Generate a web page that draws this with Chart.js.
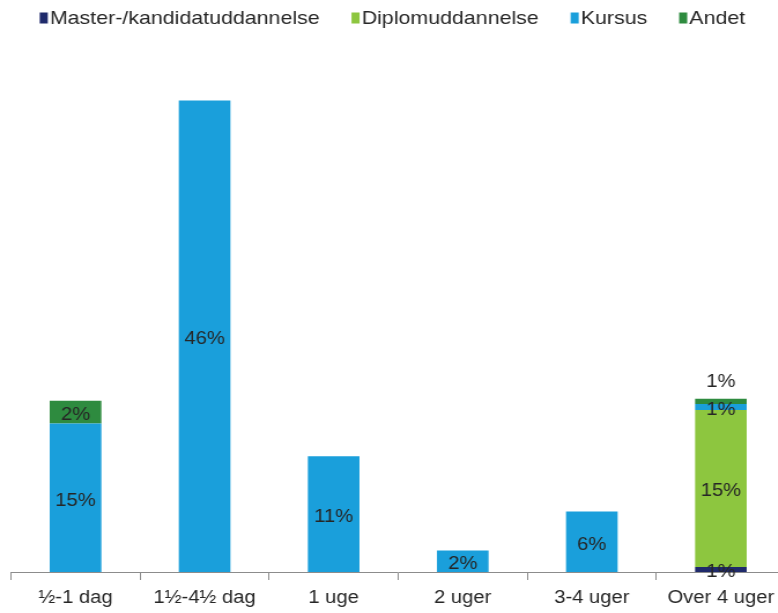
<!DOCTYPE html>
<html>
<head>
<meta charset="utf-8">
<script src="https://cdn.jsdelivr.net/npm/chart.js@4/dist/chart.umd.min.js"></script>
<style>
html,body{margin:0;padding:0;background:#fff;overflow:hidden;}
</style>
</head>
<body>
<canvas id="myChart" width="680" height="617" style="width:786px;height:617px;display:block;"></canvas>
<script>
var kategorier=['½-1 dag','1½-4½ dag','1 uge','2 uger','3-4 uger','Over 4 uger'];
var master=[0,0,0,0,0,0.5];
var diplom=[0,0,0,0,0,15.3];
var kursus=[14.5,46,11.3,2.1,5.9,0.6];
var andet=[2.2,0,0,0,0,0.5];

var skrift='"Liberation Sans", Arial, sans-serif';

// tekst i / over soejlerne
var etiketter={
	id:'etiketter',
	afterDatasetsDraw:function(chart){
		var ctx=chart.ctx;
		ctx.save();
		ctx.font='17.5px '+skrift;
		ctx.fillStyle='#262626';
		ctx.textAlign='center';
		ctx.textBaseline='middle';
		var n=chart.data.datasets.length;
		chart.data.datasets.forEach(function(ds,d){
			var meta=chart.getDatasetMeta(d);
			meta.data.forEach(function(bar,i){
				var v=ds.data[i];
				if(!v) return;
				var h=bar.base-bar.y;
				var y=(bar.y+bar.base)/2;
				if(d==n-1 && h<8){ y=bar.y-20; }
				ctx.fillText(Math.round(v)+'%',bar.x,y+3);
			});
		});
		ctx.restore();
	}
};

// egen forklaring paa en linje
var forklaring={
	id:'forklaring',
	afterDraw:function(chart){
		var ctx=chart.ctx;
		ctx.save();
		ctx.font='18.5px '+skrift;
		ctx.textBaseline='middle';
		var boks=7, mellem=1.8, afstand=27.5;
		var ds=chart.data.datasets;
		var total=0;
		ds.forEach(function(d,i){
			total+=boks+mellem+ctx.measureText(d.label).width;
			if(i<ds.length-1) total+=afstand;
		});
		var x=339.5-total/2, y=18;
		ds.forEach(function(d){
			ctx.fillStyle=d.backgroundColor;
			ctx.fillRect(x,y-5.5,boks,11);
			x+=boks+mellem;
			ctx.fillStyle='#262626';
			ctx.fillText(d.label,x,y+1);
			x+=ctx.measureText(d.label).width+afstand;
		});
		ctx.restore();
	}
};

var ctx=document.getElementById("myChart").getContext("2d");
var grafik=new Chart(ctx,{
	type:'bar',
	data:{
		labels:kategorier,
		datasets:[
			{label:'Master-/kandidatuddannelse',data:master,backgroundColor:'#1f2a6b'},
			{label:'Diplomuddannelse',data:diplom,backgroundColor:'#8dc63f'},
			{label:'Kursus',data:kursus,backgroundColor:'#1a9fdb'},
			{label:'Andet',data:andet,backgroundColor:'#2e8b3f'}
		]
	},
	options:{
		responsive:false,
		animation:false,
		layout:{padding:{left:9.5,right:0.5,top:59.6,bottom:0}},
		datasets:{bar:{barPercentage:0.4,categoryPercentage:1}},
		plugins:{
			legend:{display:false},
			tooltip:{enabled:false}
		},
		scales:{
			x:{
				stacked:true,
				grid:{drawOnChartArea:false,color:'#8c8c8c',tickLength:8,offset:true},
				border:{color:'#8c8c8c'},
				ticks:{color:'#262626',padding:8,font:{family:skrift,size:17.5}}
			},
			y:{
				stacked:true,
				display:false,
				min:0,max:50
			}
		}
	},
	plugins:[etiketter,forklaring]
});
</script>
</body>
</html>
